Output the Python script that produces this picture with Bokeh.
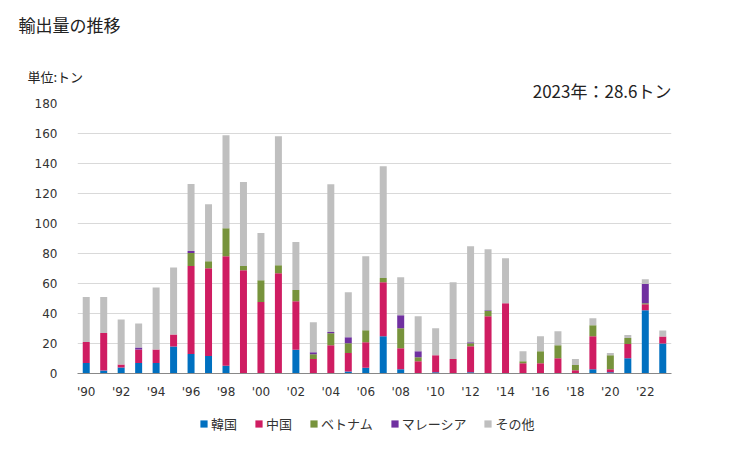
from bokeh.plotting import figure
from bokeh.layouts import column
from bokeh.models import Legend, LegendItem, ColumnDataSource, FixedTicker, Range1d, Title
from bokeh.embed import file_html
from bokeh.resources import INLINE

years = list(range(1990, 2024))
korea = [7, 2, 4, 7, 7, 18, 13, 11.6, 5.1, 0, 0, 0, 15.8, 0, 0, 1.3, 3.8, 24.9, 2.9, 0,
         0.9, 0, 0.9, 0, 0, 0, 0, 0, 0, 2.9, 0.9, 10.2, 42.2, 20]
china = [14, 25, 2, 9, 9, 8, 58.7, 58.6, 73.1, 68.9, 47.6, 66.9, 32.4, 9.6, 18.9, 12.3, 17.1, 36, 14, 8.2,
         11.3, 9.6, 17.3, 38.2, 46.9, 6.9, 6.9, 10.2, 2.2, 22, 2, 9.4, 4, 4.7]
vietnam = [0, 0, 0, 0, 0, 0, 8.6, 4.7, 18.7, 2.7, 14.6, 5.3, 7.4, 3.3, 8, 6.6, 8, 2.7, 13.3, 2.7,
           0, 0, 2, 3.4, 0, 1.3, 8, 8.7, 3.4, 7.3, 9.3, 4, 0.7, 0]
malaysia = [0, 0, 0, 1.4, 0, 0, 1.4, 0, 0, 0, 0, 0, 0, 1.3, 0.7, 4, 0, 0, 8.7, 4,
            0, 0, 0.7, 0.6, 0, 0, 0, 0, 0, 0, 0, 0, 12.7, 0]
others = [30, 24, 30, 16, 41.4, 44.7, 44.6, 38, 62, 56, 31.4, 86, 32, 20, 98.6, 30, 49.3, 74.6, 25.3, 23.3,
          18, 51.3, 64, 40.7, 30, 6.7, 10, 9.3, 4, 4.7, 1.4, 2, 3.3, 3.9]

series_names = ["韓国", "中国", "ベトナム", "マレーシア", "その他"]
series_keys = ["korea", "china", "vietnam", "malaysia", "others"]
colors = ["#0070c0", "#cf1d62", "#77933c", "#7030a0", "#bfbfbf"]
tick_years = list(range(1990, 2023, 2))
tick_labels = {y: "'" + str(y)[2:] for y in tick_years}
title_text = "輸出量の推移"
unit_text = "単位:トン"
latest_text = "2023年：28.6トン"
y_ticks = list(range(0, 181, 20))

source = ColumnDataSource(dict(year=years, korea=korea, china=china, vietnam=vietnam,
                               malaysia=malaysia, others=others))

p = figure(output_backend="svg", toolbar_location=None,
           frame_width=594, frame_height=270,
           min_border_left=77, min_border_right=50, min_border_top=0, min_border_bottom=32,
           x_range=Range1d(1989.5, 2023.5), y_range=Range1d(0, 180))

p.vbar_stack(series_keys, x="year", width=0.4, color=colors, line_width=0, source=source)

p.xgrid.visible = False
p.ygrid.grid_line_color = "#d9d9d9"
p.ygrid.grid_line_width = 1
p.outline_line_color = None

p.yaxis.ticker = FixedTicker(ticks=y_ticks)
p.yaxis.axis_line_color = None
p.yaxis.major_tick_line_color = None
p.yaxis.minor_tick_line_color = None
p.yaxis.major_label_standoff = 14
p.yaxis.major_label_text_font = "DejaVu Sans"
p.yaxis.major_label_text_font_size = "12px"
p.yaxis.major_label_text_color = "#333333"

p.xaxis.ticker = FixedTicker(ticks=tick_years)
p.xaxis.major_label_overrides = tick_labels
p.xaxis.axis_line_color = "#888888"
p.xaxis.major_tick_line_color = None
p.xaxis.minor_tick_line_color = None
p.xaxis.major_tick_out = 0
p.xaxis.major_tick_in = 0
p.xaxis.major_label_standoff = 11
p.xaxis.axis_label_standoff = 0
p.xaxis.major_label_text_font = "DejaVu Sans"
p.xaxis.major_label_text_font_size = "12px"
p.xaxis.major_label_text_color = "#333333"

# stacked from the frame outwards
p.add_layout(Title(text=latest_text, align="right", text_font="Noto Sans CJK JP",
                   text_font_size="17px", text_font_style="normal", text_color="#222222",
                   vertical_align="top", standoff=-2), "above")
p.add_layout(Title(text=unit_text, align="left", offset=-50, text_font="Noto Sans CJK JP",
                   text_font_size="13px", text_font_style="normal", text_color="#222222",
                   vertical_align="bottom", standoff=-15), "above")
p.add_layout(Title(text=" ", align="left", text_font_size="1px", standoff=20), "above")
p.add_layout(Title(text=title_text, align="left", offset=-59, text_font="Noto Sans CJK JP",
                   text_font_size="17px", text_font_style="normal", text_color="#222222",
                   vertical_align="top", standoff=22), "above")

# legend strip below the chart (swatch proxies hold no visible marks)
nan = float("nan")
lg = figure(width=721, height=40, output_backend="svg", toolbar_location=None,
            min_border=0, x_range=Range1d(0, 1), y_range=Range1d(0, 1))
lg.axis.visible = False
lg.grid.visible = False
lg.outline_line_color = None
swatches = [lg.quad(left=[nan], right=[nan], top=[nan], bottom=[nan], color=c, line_width=0)
            for c in colors]
legend = Legend(items=[LegendItem(label=n, renderers=[r]) for n, r in zip(series_names, swatches)],
                orientation="horizontal", location=(122, 12),
                label_text_font="Noto Sans CJK JP", label_text_font_size="13px",
                label_text_color="#333333", glyph_width=9, glyph_height=9,
                label_height=14, label_standoff=3, spacing=17, border_line_color=None,
                background_fill_alpha=0, margin=0, padding=0)
lg.add_layout(legend, "center")

open("out.html", "w").write(file_html(column(p, lg, spacing=0), INLINE))
